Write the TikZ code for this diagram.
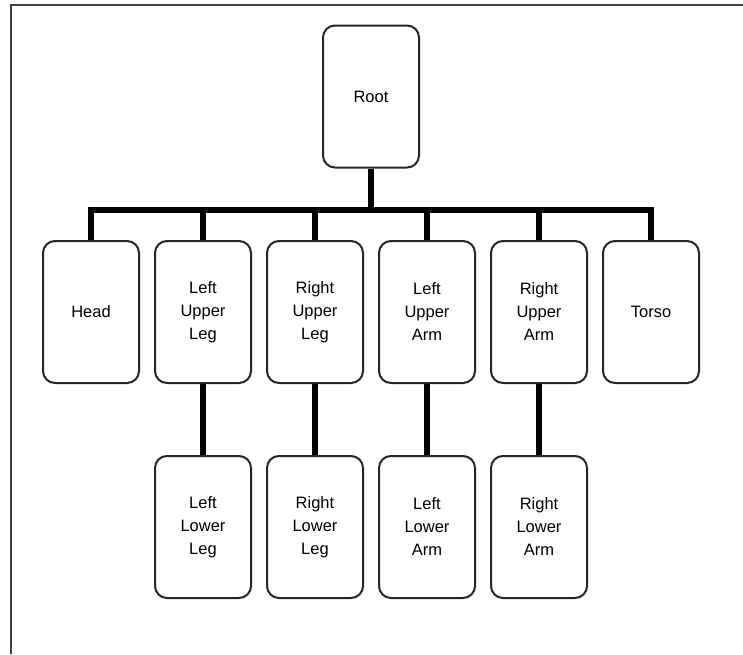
\documentclass[tikz,border=0pt]{standalone}
\usepackage{fontspec}
\setmainfont{Liberation Sans}
\begin{document}
\begin{tikzpicture}[x=1pt,y=-1pt,
  part/.style={draw=black!85, line width=2pt, rounded corners=12pt, fill=white,
    minimum width=96pt, minimum height=142pt, inner sep=0pt, align=center,
    font=\fontsize{16.5}{23}\selectfont},
  link/.style={line width=6pt, black},
  frame/.style={line width=2pt, black!75}]
  \useasboundingbox (0,0) rectangle (743,654);
  % page frame, open at the right and bottom
  \draw[frame] (11,654) -- (11,5) -- (743,5);

  % nodes
  \node[part] (root) at (371,96.5) {Root};
  \node[part] (head)  at (91,312)  {Head};
  \node[part] (lul)   at (203,312) {Left\\Upper\\Leg};
  \node[part] (rul)   at (315,312) {Right\\Upper\\Leg};
  \node[part] (lua)   at (427,312) {Left\\Upper\\Arm};
  \node[part] (rua)   at (539,312) {Right\\Upper\\Arm};
  \node[part] (torso) at (651,312) {Torso};
  \node[part] (lll)   at (203,527) {Left\\Lower\\Leg};
  \node[part] (rll)   at (315,527) {Right\\Lower\\Leg};
  \node[part] (lla)   at (427,527) {Left\\Lower\\Arm};
  \node[part] (rla)   at (539,527) {Right\\Lower\\Arm};

  % connectors
  \coordinate (bus) at (371,210);
  \draw[link] (root.south) -- (bus);
  \draw[link] (head.north) |- (bus) -| (torso.north);
  \foreach \n in {lul,rul,lua,rua} \draw[link] (\n.north) -- (\n.north |- bus);
  \draw[link] (lul.south) -- (lll.north);
  \draw[link] (rul.south) -- (rll.north);
  \draw[link] (lua.south) -- (lla.north);
  \draw[link] (rua.south) -- (rla.north);
\end{tikzpicture}
\end{document}
